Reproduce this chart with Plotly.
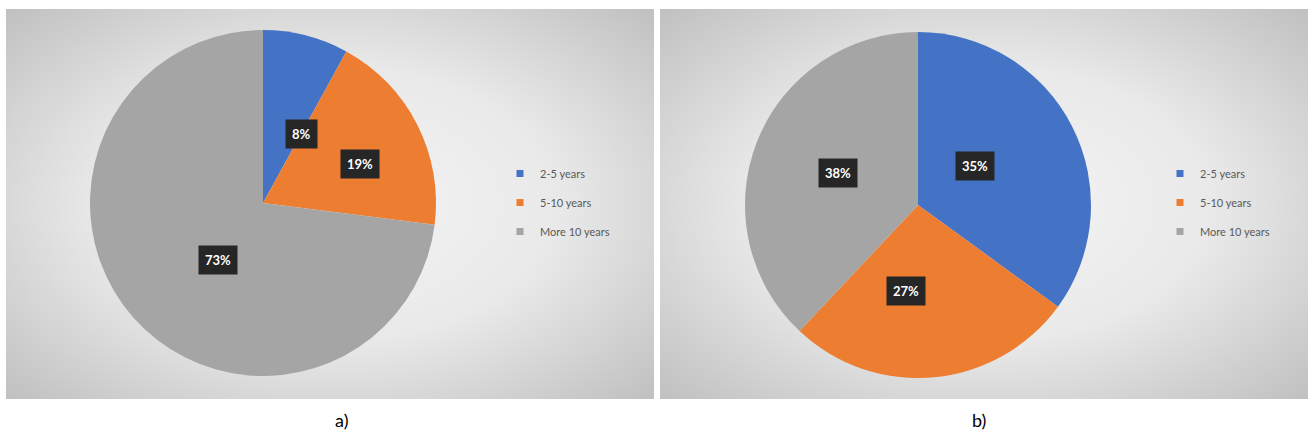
import math
import plotly.graph_objects as go

# Data
categories = ["2-5 years", "5-10 years", "More 10 years"]
share_a = [8, 19, 73]
share_b = [35, 27, 38]
panel_titles = ["a)", "b)"]

W, H = 1311, 448
colors = ["#4472C4", "#ED7D31", "#A5A5A5"]
FONT = "Lato"

# panel boxes in pixels: (left, top, right, bottom)
panels = [(6, 9, 654, 399), (660, 9, 1308, 399)]
# pie centre (px) and radius (px)
pies = [((263, 203), 173), ((918, 205), 173)]
legend_left = [500, 1160]


def px_x(v):
    return v / W


def px_y(v):
    return 1 - v / H


fig = go.Figure()

# Gradient backgrounds of both panels; the filled box is oversized so that the
# elliptical gradient reaches the corners, and the axis range clips it.
ext = (math.sqrt(2) - 1) / 2
for i, (l, t, r, b) in enumerate(panels):
    sfx = "" if i == 0 else "2"
    lo, hi = -ext, 1 + ext
    fig.add_trace(go.Scatter(
        x=[lo, hi, hi, lo, lo], y=[lo, lo, hi, hi, lo],
        mode="lines", fill="toself",
        line=dict(width=0, color="rgba(0,0,0,0)"),
        fillgradient=dict(type="radial",
                          colorscale=[[0, "#f5f5f5"], [0.5, "#e9e9e9"], [1, "#c0c0c0"]]),
        hoverinfo="skip", showlegend=False,
        xaxis="x" + sfx, yaxis="y" + sfx,
    ))
    axis_common = dict(range=[0, 1], visible=False, fixedrange=True)
    fig.update_layout(**{
        "xaxis" + sfx: dict(domain=[px_x(l), px_x(r)], anchor="y" + sfx, **axis_common),
        "yaxis" + sfx: dict(domain=[px_y(b), px_y(t)], anchor="x" + sfx, **axis_common),
    })

annotations = []
for i, values in enumerate([share_a, share_b]):
    (cx, cy), R = pies[i]
    fig.add_trace(go.Pie(
        labels=categories, values=values, sort=False,
        direction="clockwise", rotation=0,
        marker=dict(colors=colors, line=dict(width=0)),
        textinfo="none", hoverinfo="label+percent", showlegend=False,
        domain=dict(x=[px_x(cx - R), px_x(cx + R)], y=[px_y(cy + R), px_y(cy - R)]),
    ))
    # data labels at the middle angle of each slice
    total = sum(values)
    acc = 0
    for v in values:
        mid = (acc + v / 2) / total * 2 * math.pi
        acc += v
        lx = cx + 0.5 * R * math.sin(mid)
        ly = cy - 0.5 * R * math.cos(mid)
        annotations.append(dict(
            x=px_x(lx), y=px_y(ly), xref="paper", yref="paper",
            text=f"<b>{round(100 * v / total)}%</b>", showarrow=False,
            font=dict(family=FONT, size=13, color="white"),
            bgcolor="#262626", borderpad=6,
        ))
    # legend entries
    sfx = "" if i == 0 else "2"
    for k, name in enumerate(categories):
        fig.add_trace(go.Scatter(
            x=[None], y=[None], mode="markers", name=name,
            marker=dict(symbol="square", size=7, color=colors[k]),
            legend="legend" + sfx, legendgroup=f"g{i}{k}",
            xaxis="x" + sfx, yaxis="y" + sfx,
        ))
    annotations.append(dict(
        x=px_x(333 if i == 0 else 988), y=px_y(433), xref="paper", yref="paper",
        text=panel_titles[i], showarrow=False,
        font=dict(family=FONT, size=18, color="black"),
    ))

legend_style = dict(
    xanchor="left", yanchor="top", bgcolor="rgba(0,0,0,0)",
    font=dict(family=FONT, size=11, color="#595959"),
    tracegroupgap=10, itemclick=False, itemdoubleclick=False,
)
fig.update_layout(
    width=W, height=H,
    margin=dict(l=0, r=0, t=0, b=0),
    paper_bgcolor="white", plot_bgcolor="rgba(0,0,0,0)",
    showlegend=True,
    legend=dict(x=px_x(legend_left[0]), y=px_y(159), **legend_style),
    legend2=dict(x=px_x(legend_left[1]), y=px_y(159), **legend_style),
    annotations=annotations,
)

fig.write_html("out.html")
